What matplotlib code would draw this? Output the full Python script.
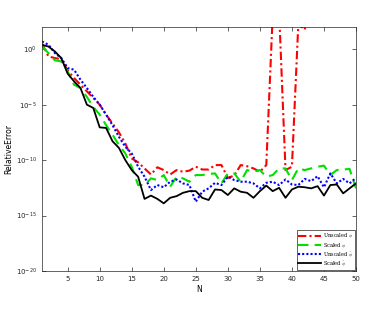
import numpy as np
import matplotlib.pyplot as plt

# data: log10 of relative error
N = np.arange(1, 51)

log_unscaled_phi = [
    0.5, -0.65, -0.8, -0.9, -1.9, -2.6, -3.2, -3.8, -4.4, -5.0,
    -5.9, -6.7, -7.5, -8.5, -9.85, -10.2, -10.75, -11.3, -10.65, -10.9,
    -11.3, -10.9, -11.05, -10.95, -10.6, -10.85, -10.85, -10.45, -10.45, -11.6,
    -11.4, -10.45, -10.55, -10.75, -11.05, -10.45, 3.1, 3.4, -10.9, -10.6,
    2.3, 1.75, 6.0, 6.5, 7.0, 7.5, 8.0, 8.5, 9.0, 9.5,
]
log_scaled_phi = [
    0.25, -0.35, -1.0, -1.1, -2.0, -3.2, -3.5, -4.3, -5.2, -5.9,
    -6.85, -7.7, -8.65, -9.4, -10.6, -12.25, -12.25, -11.65, -11.8, -11.35,
    -12.4, -11.5, -11.65, -11.95, -11.35, -11.35, -11.25, -11.2, -12.1, -11.2,
    -11.2, -11.95, -10.9, -11.05, -10.9, -11.5, -11.35, -10.75, -10.75, -11.8,
    -10.75, -10.9, -10.75, -10.6, -10.5, -11.35, -10.9, -10.85, -10.8, -12.55,
]
log_unscaled_phitilde = [
    0.7, 0.4, -0.35, -0.8, -1.7, -1.85, -2.75, -3.5, -4.3, -5.0,
    -5.9, -6.85, -7.9, -8.8, -9.4, -10.6, -11.5, -12.7, -12.25, -12.45,
    -11.95, -11.75, -12.1, -12.25, -13.75, -12.85, -12.55, -12.05, -12.25, -11.5,
    -11.8, -11.95, -11.95, -12.1, -12.55, -12.05, -11.95, -12.25, -11.75, -12.2,
    -12.25, -11.7, -11.9, -11.45, -12.45, -11.2, -12.1, -11.7, -12.1, -11.6,
]
log_scaled_phitilde = [
    0.39, 0.24, -0.2, -0.8, -2.2, -2.9, -3.5, -5.0, -5.3, -7.05,
    -7.1, -8.3, -8.9, -10.0, -10.9, -11.5, -13.5, -13.2, -13.5, -13.9,
    -13.4, -13.25, -12.95, -12.8, -12.8, -13.4, -13.6, -12.65, -12.7, -13.15,
    -12.55, -12.85, -12.95, -13.4, -12.8, -12.3, -12.8, -12.5, -13.4, -12.65,
    -12.4, -12.45, -12.55, -12.35, -13.2, -12.25, -12.2, -13.0, -12.55, -12.1,
]

labels = [r"Unscaled $\phi$", r"Scaled $\phi$",
          r"Unscaled $\tilde{\phi}$", r"Scaled $\tilde{\phi}$"]

plt.rcParams['mathtext.fontset'] = 'cm'

fig = plt.figure(figsize=(3.83, 3.09), dpi=100)
ax = fig.add_axes([0.1097, 0.123, 0.8198, 0.7896])

ax.semilogy(N, 10.0 ** np.array(log_unscaled_phi), color='red', lw=1.5,
            linestyle=(0, (4, 1.5, 1, 1.5)), label=labels[0])
ax.semilogy(N, 10.0 ** np.array(log_scaled_phi), color='#00e000', lw=1.5,
            linestyle=(0, (5, 3)), label=labels[1])
ax.semilogy(N, 10.0 ** np.array(log_unscaled_phitilde), color='blue', lw=1.5,
            linestyle=(0, (1, 1)), label=labels[2])
ax.semilogy(N, 10.0 ** np.array(log_scaled_phitilde), color='black', lw=1.3,
            label=labels[3])

ax.set_xlim(1, 50)
ax.set_ylim(1e-20, 1e2)
ax.set_xticks([5, 10, 15, 20, 25, 30, 35, 40, 45, 50])
ax.set_yticks([1e-20, 1e-15, 1e-10, 1e-5, 1e0])
ax.minorticks_off()
ax.tick_params(direction='in', top=True, right=True, labelsize=5,
               length=3, width=0.5, colors='0.15')
for s in ax.spines.values():
    s.set_linewidth(0.5)
    s.set_color('0.15')

ax.set_xlabel('N', fontsize=5.5, labelpad=2)
ax.set_ylabel('RelativeError', fontsize=5.5, labelpad=2)

leg = ax.legend(loc='lower right', prop={'family': 'serif', 'size': 3.6},
                handlelength=4.5, handleheight=1.0, borderpad=0.3,
                labelspacing=0.05, fancybox=False, framealpha=1,
                edgecolor='0.15', borderaxespad=0.25, handletextpad=0.5)
leg.get_frame().set_linewidth(0.5)

fig.savefig('out.png', dpi=100)
